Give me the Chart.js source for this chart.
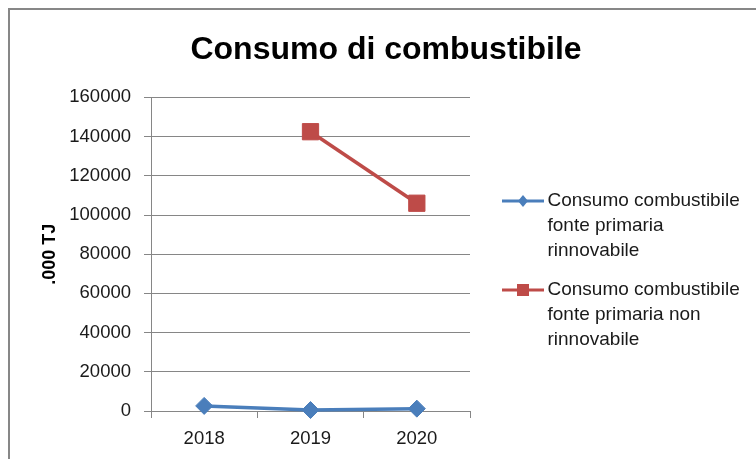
<!DOCTYPE html>
<html>
<head>
<meta charset="utf-8">
<script src="https://cdn.jsdelivr.net/npm/chart.js@4.4.1/dist/chart.umd.min.js"></script>
<style>
  html, body { margin: 0; padding: 0; background: #ffffff; }
  #wrap { width: 756px; height: 459px; position: relative; }
</style>
</head>
<body>
<div id="wrap"><canvas id="chart" width="756" height="459"></canvas></div>
<script>
// Years on the category axis
const years = ['2018', '2019', '2020'];

// Fuel consumption, thousands of TJ
const renewable = [2600, 500, 1200];
const nonRenewable = [null, 142500, 106000];

// Series names, split into the lines shown in the legend
const renewableName = ['Consumo combustibile', 'fonte primaria', 'rinnovabile'];
const nonRenewableName = ['Consumo combustibile', 'fonte primaria non', 'rinnovabile'];

const chartTitle = 'Consumo di combustibile';
const yTitle = '.000 TJ';

const BLUE = '#4A7EBB';
const RED = '#BE4B48';
const GRID = '#868686';
const TEXT = '#1a1a1a';
const FONT = "'Liberation Sans', Arial, sans-serif";
const PAD_LEFT = 24;
const PAD_RIGHT = 8;
const LEGEND_LEFT = 494;
const LEGEND_WIDTH = 756 - PAD_RIGHT - LEGEND_LEFT;

// Small line-with-marker symbols for the legend
function legendSymbol(color, marker) {
  const c = document.createElement('canvas');
  c.width = 42; c.height = 16;
  const g = c.getContext('2d');
  g.strokeStyle = color;
  g.lineWidth = 3;
  g.beginPath(); g.moveTo(0, 8); g.lineTo(42, 8); g.stroke();
  g.fillStyle = color;
  g.beginPath();
  if (marker === 'diamond') {
    g.moveTo(21, 2); g.lineTo(26, 8); g.lineTo(21, 14); g.lineTo(16, 8);
  } else {
    g.rect(15, 2, 12, 12);
  }
  g.closePath(); g.fill();
  return c;
}

// Grey frame around the chart
const framePlugin = {
  id: 'frame',
  beforeDraw(chart) {
    const ctx = chart.ctx;
    ctx.save();
    ctx.fillStyle = '#ffffff';
    ctx.fillRect(0, 0, chart.width, chart.height);
    ctx.strokeStyle = '#878787';
    ctx.lineWidth = 2;
    ctx.strokeRect(9, 9, chart.width + 20, chart.height + 20);
    ctx.restore();
  }
};

// Give the right-hand legend a fixed width instead of the half-canvas cap
const legendWidthPlugin = {
  id: 'legendWidth',
  beforeLayout(chart) {
    const lg = chart.legend;
    if (lg && !lg._fixedWidth) {
      const baseFit = lg.fit;
      lg.fit = function () {
        this.maxWidth = 1000;
        baseFit.call(this);
        this.width = LEGEND_WIDTH;
      };
      lg._fixedWidth = true;
    }
  }
};

new Chart(document.getElementById('chart'), {
  type: 'line',
  data: {
    labels: years,
    datasets: [
      {
        label: renewableName.join(' '),
        data: renewable,
        borderColor: BLUE,
        backgroundColor: BLUE,
        borderWidth: 3.5,
        pointStyle: 'rectRot',
        pointRadius: 8.5,
        pointBorderWidth: 1,
        pointHoverRadius: 8.5,
        tension: 0,
        clip: false,
        fill: false
      },
      {
        label: nonRenewableName.join(' '),
        data: nonRenewable,
        borderColor: RED,
        backgroundColor: RED,
        borderWidth: 3.5,
        pointStyle: 'rect',
        pointRadius: 11.5,
        pointBorderWidth: 1,
        pointHoverRadius: 11.5,
        tension: 0,
        spanGaps: false,
        clip: false,
        fill: false
      }
    ]
  },
  options: {
    responsive: false,
    animation: false,
    layout: { padding: { left: PAD_LEFT, right: PAD_RIGHT, top: 0, bottom: 14 } },
    plugins: {
      title: {
        display: true,
        text: chartTitle,
        color: '#000000',
        font: { family: FONT, size: 32, weight: 'bold', lineHeight: 1.2 },
        padding: { top: 31, bottom: 28 }
      },
      legend: {
        display: true,
        position: 'right',
        align: 'center',
        // empty title block: only pushes the items down
        title: {
          display: true,
          text: '',
          font: { family: FONT, size: 10, lineHeight: 1.2 },
          padding: { top: 90, bottom: 0 }
        },
        labels: {
          color: TEXT,
          font: { family: FONT, size: 19, lineHeight: 25 / 19 },
          padding: 14,
          usePointStyle: true,
          pointStyleWidth: 30,
          generateLabels() {
            return [
              { text: renewableName, fontColor: TEXT, pointStyle: legendSymbol(BLUE, 'diamond'), fillStyle: BLUE, strokeStyle: BLUE, lineWidth: 0, hidden: false, datasetIndex: 0 },
              { text: nonRenewableName, fontColor: TEXT, pointStyle: legendSymbol(RED, 'square'), fillStyle: RED, strokeStyle: RED, lineWidth: 0, hidden: false, datasetIndex: 1 }
            ];
          }
        }
      },
      tooltip: { enabled: false }
    },
    scales: {
      x: {
        offset: true,
        grid: {
          offset: true,
          drawOnChartArea: false,
          drawTicks: true,
          tickLength: 7,
          color: GRID
        },
        border: { display: true, color: GRID, width: 1 },
        ticks: {
          color: TEXT,
          font: { family: FONT, size: 18.5 },
          padding: 10,
          maxRotation: 0
        },
        afterFit(scale) { scale.height = 459 - 14 - 411; }
      },
      y: {
        min: 0,
        max: 160000,
        grid: {
          color: GRID,
          lineWidth: 1,
          drawTicks: true,
          tickLength: 7
        },
        border: { display: true, color: GRID, width: 1 },
        ticks: {
          stepSize: 20000,
          color: TEXT,
          font: { family: FONT, size: 18.5 },
          padding: 13,
          callback: (v) => String(v)
        },
        title: {
          display: true,
          text: yTitle,
          color: '#000000',
          font: { family: FONT, size: 18, weight: 'bold', lineHeight: 1.2 },
          padding: { top: 15, bottom: 0 }
        },
        afterFit(scale) { scale.width = 151 - PAD_LEFT; }
      },
      // empty strip between the plot and the legend
      gap: {
        type: 'linear',
        position: 'right',
        display: true,
        grid: { display: false, drawTicks: false },
        border: { display: false },
        ticks: { display: false },
        afterFit(scale) { scale.width = LEGEND_LEFT - 470; }
      }
    }
  },
  plugins: [framePlugin, legendWidthPlugin]
});
</script>
</body>
</html>
